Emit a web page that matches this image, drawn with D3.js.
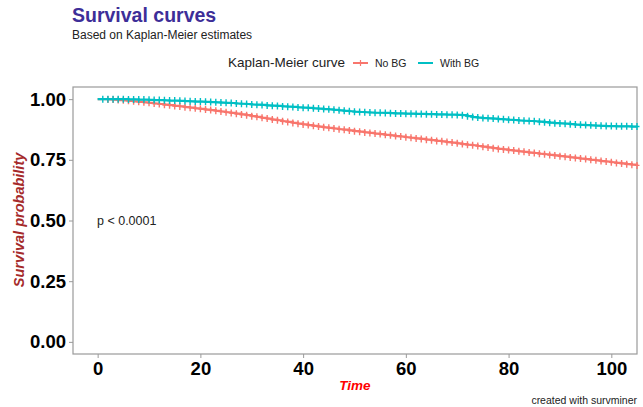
<!DOCTYPE html>
<html>
<head>
<meta charset="utf-8">
<script src="https://cdn.jsdelivr.net/npm/d3@7.9.0/dist/d3.min.js"></script>
<style>
  body { margin: 0; background: #fff; }
  svg { font-family: "Liberation Sans", Arial, sans-serif; }
</style>
</head>
<body>
<div id="chart"></div>
<script>
const times = d3.range(0, 106); // 0..105, one step per time unit
const noBG = [
  1.000, 1.000, 0.999, 0.998, 0.996, 0.995, 0.993, 0.991, 0.989, 0.987,
  0.985, 0.982, 0.980, 0.977, 0.975, 0.972, 0.970, 0.967, 0.965, 0.962,
  0.960, 0.957, 0.955, 0.952, 0.949, 0.946, 0.943, 0.940, 0.937, 0.934,
  0.930, 0.927, 0.923, 0.920, 0.916, 0.913, 0.909, 0.906, 0.902, 0.899,
  0.896, 0.893, 0.890, 0.887, 0.884, 0.882, 0.879, 0.876, 0.874, 0.871,
  0.868, 0.866, 0.863, 0.861, 0.858, 0.856, 0.853, 0.851, 0.848, 0.846,
  0.843, 0.841, 0.838, 0.836, 0.833, 0.831, 0.828, 0.826, 0.823, 0.821,
  0.818, 0.815, 0.812, 0.810, 0.807, 0.804, 0.801, 0.798, 0.795, 0.793,
  0.790, 0.788, 0.785, 0.783, 0.780, 0.778, 0.775, 0.773, 0.770, 0.768,
  0.765, 0.763, 0.760, 0.758, 0.755, 0.753, 0.750, 0.748, 0.745, 0.743,
  0.740, 0.737, 0.735, 0.732, 0.730, 0.727
];
const withBG = [
  1.000, 1.000, 1.000, 1.000, 1.000, 1.000, 0.999, 0.999, 0.998, 0.998,
  0.997, 0.996, 0.996, 0.995, 0.994, 0.994, 0.993, 0.992, 0.991, 0.990,
  0.990, 0.989, 0.988, 0.987, 0.986, 0.985, 0.984, 0.982, 0.981, 0.980,
  0.978, 0.977, 0.976, 0.974, 0.973, 0.972, 0.970, 0.969, 0.968, 0.966,
  0.965, 0.964, 0.962, 0.961, 0.959, 0.958, 0.956, 0.954, 0.952, 0.950,
  0.948, 0.947, 0.946, 0.945, 0.944, 0.944, 0.943, 0.942, 0.941, 0.941,
  0.940, 0.940, 0.939, 0.939, 0.938, 0.938, 0.937, 0.937, 0.936, 0.936,
  0.935, 0.934, 0.930, 0.926, 0.924, 0.922, 0.921, 0.920, 0.918, 0.917,
  0.915, 0.914, 0.912, 0.911, 0.910, 0.909, 0.907, 0.905, 0.903, 0.901,
  0.900, 0.899, 0.897, 0.895, 0.894, 0.893, 0.892, 0.891, 0.890, 0.889,
  0.889, 0.888, 0.888, 0.888, 0.887, 0.887
];
const seriesNames = ["No BG", "With BG"];
const seriesColors = ["#F8766D", "#00BFC4"];
const xTicks = [0, 20, 40, 60, 80, 100];
const yTicks = [0, 0.25, 0.5, 0.75, 1];

const W = 643, H = 407;
const panel = { left: 73, right: 637, top: 87, bottom: 354 };

const svg = d3.select("#chart").append("svg")
  .attr("width", W).attr("height", H);

const x = d3.scaleLinear().domain([-4.8, 105]).range([panel.left, panel.right]);
const y = d3.scaleLinear().domain([-0.05, 1.05]).range([panel.bottom, panel.top]);

// titles
svg.append("text").attr("x", 72).attr("y", 22)
  .attr("font-size", 19.5).attr("font-weight", "bold").attr("fill", "#3D2E98")
  .text("Survival curves");
svg.append("text").attr("x", 72).attr("y", 39)
  .attr("font-size", 12).attr("fill", "#222")
  .text("Based on Kaplan-Meier estimates");

// legend
const legend = svg.append("g").attr("transform", "translate(228, 67)");
legend.append("text").attr("x", 0).attr("y", 0)
  .attr("font-size", 13.5).attr("fill", "#222").text("Kaplan-Meier curve");
const legendItems = [{ x0: 125, tx: 147 }, { x0: 190, tx: 212 }];
seriesNames.forEach((name, i) => {
  const it = legend.append("g").attr("transform", `translate(${legendItems[i].x0}, -4)`);
  it.append("line").attr("x1", 0).attr("x2", 15).attr("y1", 0).attr("y2", 0)
    .attr("stroke", seriesColors[i]).attr("stroke-width", 2);
  if (i === 0) {
    it.append("line").attr("x1", 7.5).attr("x2", 7.5).attr("y1", -3).attr("y2", 3)
      .attr("stroke", seriesColors[i]).attr("stroke-width", 1.2);
  }
  legend.append("text").attr("x", legendItems[i].tx).attr("y", 0)
    .attr("font-size", 10.5).attr("fill", "#222").text(name);
});

// panel border
svg.append("rect")
  .attr("x", panel.left).attr("y", panel.top)
  .attr("width", panel.right - panel.left).attr("height", panel.bottom - panel.top)
  .attr("fill", "none").attr("stroke", "#9a9a9a").attr("stroke-width", 1.2);

// axes
const yAxis = svg.append("g").attr("transform", `translate(${panel.left},0)`)
  .call(d3.axisLeft(y).tickValues(yTicks).tickFormat(d3.format(".2f")).tickSize(4).tickPadding(3));
const xAxis = svg.append("g").attr("transform", `translate(0,${panel.bottom})`)
  .call(d3.axisBottom(x).tickValues(xTicks).tickSize(4).tickPadding(4));
[yAxis, xAxis].forEach(a => {
  a.select(".domain").remove();
  a.selectAll(".tick line").attr("stroke", "#9a9a9a");
  a.selectAll(".tick text").attr("font-size", 18.5).attr("font-weight", "bold")
    .attr("fill", "#000").attr("font-family", "Liberation Sans, Arial, sans-serif");
});

// axis titles
svg.append("text")
  .attr("transform", "translate(24, 220) rotate(-90)")
  .attr("text-anchor", "middle").attr("font-size", 14.5)
  .attr("font-weight", "bold").attr("font-style", "italic").attr("fill", "#A52A2A")
  .text("Survival probability");
svg.append("text").attr("x", 355).attr("y", 390)
  .attr("text-anchor", "middle").attr("font-size", 13.5)
  .attr("font-weight", "bold").attr("font-style", "italic").attr("fill", "#FF0000")
  .text("Time");

// curves
const line = d3.line().x(d => x(d.t)).y(d => y(d.s)).curve(d3.curveStepAfter);
[noBG, withBG].forEach((vals, i) => {
  const data = times.map((t, k) => ({ t, s: vals[k] }));
  svg.append("path").datum(data)
    .attr("fill", "none").attr("stroke", seriesColors[i]).attr("stroke-width", 2.2)
    .attr("d", line);
  // censoring marks
  const marks = data.filter(d => d.t >= (i === 0 ? 2 : 1));
  svg.selectAll(null).data(marks).join("path")
    .attr("d", d => `M${x(d.t) - 2.5},${y(d.s)}h5M${x(d.t)},${y(d.s) - 3.5}v7`)
    .attr("stroke", seriesColors[i]).attr("stroke-width", 1.4).attr("fill", "none");
});

// p-value
svg.append("text").attr("x", 97).attr("y", 225)
  .attr("font-size", 12.5).attr("fill", "#222").text("p < 0.0001");

// caption
svg.append("text").attr("x", 637).attr("y", 404).attr("text-anchor", "end")
  .attr("font-size", 10.5).attr("fill", "#222").text("created with survminer");
</script>
</body>
</html>
